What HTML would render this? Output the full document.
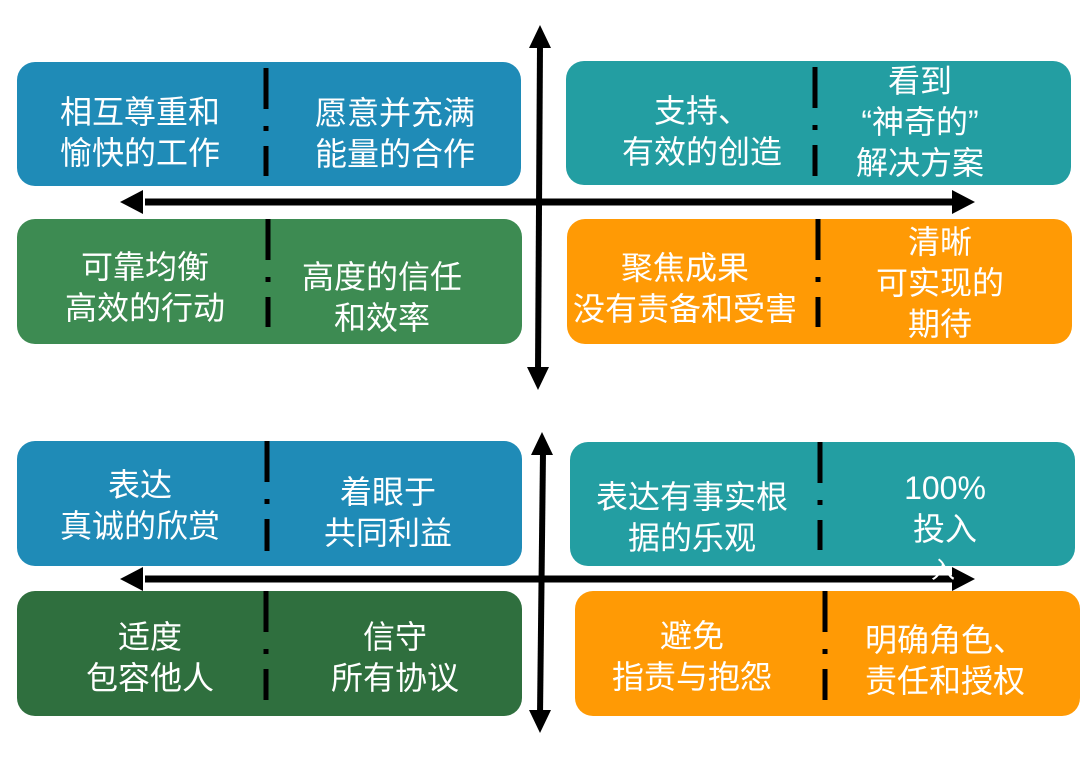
<!DOCTYPE html>
<html><head><meta charset="utf-8"><style>
body{margin:0;width:1080px;height:758px;background:#fff;position:relative;overflow:hidden;font-family:"Liberation Sans","Noto Sans CJK SC",sans-serif}
.b{position:absolute;border-radius:18px}
.t{position:absolute;width:300px;text-align:center;color:#fff;font-size:32px;line-height:41px;white-space:nowrap}
.blue{background:#1f8bb7}.teal{background:#239ea2}.green{background:#3d8b52}.dg{background:#2f6f3e}.or{background:#ff9a05}
</style></head><body>
<div class="b blue" style="left:17px;top:62px;width:504px;height:124px"></div>
<div class="b teal" style="left:566px;top:61px;width:505px;height:124px"></div>
<div class="b green" style="left:17px;top:219px;width:505px;height:125px"></div>
<div class="b or" style="left:567px;top:219px;width:505px;height:125px"></div>
<div class="b blue" style="left:17px;top:441px;width:505px;height:125px"></div>
<div class="b teal" style="left:570px;top:442px;width:505px;height:124px"></div>
<div class="b dg" style="left:17px;top:591px;width:505px;height:125px"></div>
<div class="b or" style="left:575px;top:591px;width:505px;height:125px"></div>

<svg width="1080" height="758" style="position:absolute;left:0;top:0">
<g stroke="#000" stroke-width="5">
<line x1="266" y1="68" x2="266" y2="109"/><line x1="266" y1="126" x2="266" y2="131"/><line x1="266" y1="146" x2="266" y2="176"/>
<line x1="815" y1="67" x2="815" y2="108"/><line x1="815" y1="125" x2="815" y2="130"/><line x1="815" y1="145" x2="815" y2="176"/>
<line x1="268" y1="219" x2="268" y2="260"/><line x1="268" y1="277" x2="268" y2="282"/><line x1="268" y1="297" x2="268" y2="327"/>
<line x1="818" y1="219" x2="818" y2="260"/><line x1="818" y1="277" x2="818" y2="282"/><line x1="818" y1="297" x2="818" y2="327"/>
<line x1="267" y1="441" x2="267" y2="482"/><line x1="267" y1="499" x2="267" y2="504"/><line x1="267" y1="519" x2="267" y2="551"/>
<line x1="820" y1="442" x2="820" y2="483"/><line x1="820" y1="500" x2="820" y2="505"/><line x1="820" y1="520" x2="820" y2="550"/>
<line x1="266" y1="591" x2="266" y2="632"/><line x1="266" y1="649" x2="266" y2="654"/><line x1="266" y1="669" x2="266" y2="700"/>
<line x1="825" y1="591" x2="825" y2="632"/><line x1="825" y1="649" x2="825" y2="654"/><line x1="825" y1="669" x2="825" y2="700"/>
<line x1="540" y1="45" x2="538" y2="372" stroke-width="6"/>
<line x1="145" y1="202" x2="955" y2="202" stroke-width="7"/>
<line x1="543" y1="452" x2="540" y2="715" stroke-width="6"/>
<line x1="145" y1="579" x2="955" y2="579" stroke-width="7"/>
</g>
<g fill="#000">
<polygon points="540,25 529,48 551,48"/><polygon points="538,390 527,367 549,367"/>
<polygon points="120,202 143,190 143,214"/><polygon points="975,202 952,190 952,214"/>
<polygon points="542,432 531,455 553,455"/><polygon points="540,733 529,710 551,710"/>
<polygon points="120,579 143,567 143,591"/><polygon points="975,579 952,567 952,591"/>
</g>
</svg>

<div class="t" style="left:-10px;top:92px">相互尊重和<br>愉快的工作</div>
<div class="t" style="left:245px;top:93px">愿意并充满<br>能量的合作</div>
<div class="t" style="left:552px;top:91px">支持、<br>有效的创造</div>
<div class="t" style="left:770px;top:61px">看到<br>“神奇的”<br>解决方案</div>
<div class="t" style="left:-5px;top:247px">可靠均衡<br>高效的行动</div>
<div class="t" style="left:232px;top:257px">高度的信任<br>和效率</div>
<div class="t" style="left:535px;top:248px">聚焦成果<br>没有责备和受害</div>
<div class="t" style="left:790px;top:222px">清晰<br>可实现的<br>期待</div>
<div class="t" style="left:-10px;top:465px">表达<br>真诚的欣赏</div>
<div class="t" style="left:238px;top:472px">着眼于<br>共同利益</div>
<div class="t" style="left:542px;top:477px">表达有事实根<br>据的乐观</div>
<div class="t" style="left:795px;top:468px">100%<br>投入</div>
<div class="t" style="left:793px;top:550px;font-size:24px">入</div>
<div class="t" style="left:0px;top:617px">适度<br>包容他人</div>
<div class="t" style="left:245px;top:617px">信守<br>所有协议</div>
<div class="t" style="left:542px;top:616px">避免<br>指责与抱怨</div>
<div class="t" style="left:795px;top:620px">明确角色、<br>责任和授权</div>
</body></html>
